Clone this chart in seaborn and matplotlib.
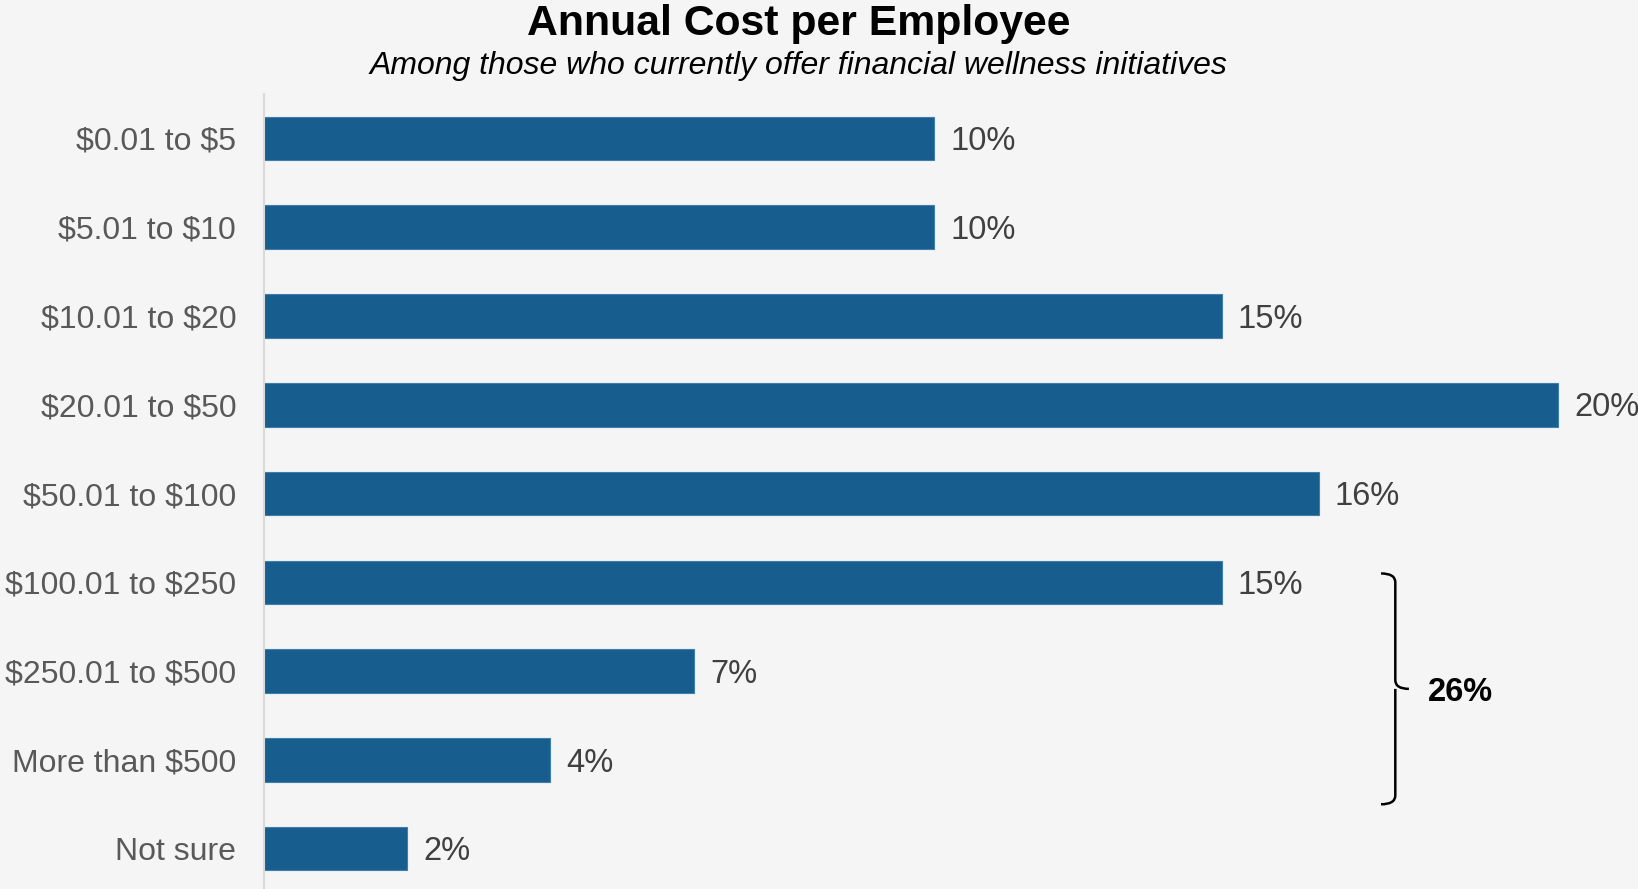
import matplotlib
matplotlib.use("Agg")
import matplotlib.pyplot as plt
from matplotlib.path import Path
from matplotlib.patches import PathPatch
import seaborn as sns
import pandas as pd

categories = ["$0.01 to $5", "$5.01 to $10", "$10.01 to $20", "$20.01 to $50",
              "$50.01 to $100", "$100.01 to $250", "$250.01 to $500",
              "More than $500", "Not sure"]
values = [10.36, 10.36, 14.80, 20.0, 16.30, 14.80, 6.65, 4.42, 2.21]
labels = ["10%", "10%", "15%", "20%", "16%", "15%", "7%", "4%", "2%"]
bracket_label = "26%"
bracket_from, bracket_to = "$100.01 to $250", "More than $500"

title = "Annual Cost per Employee"
subtitle = "Among those who currently offer financial wellness initiatives"

bg = "#f5f5f5"
bar_color = "#175d8e"

sns.set_theme(style="white")
plt.rcParams['font.family'] = ['Liberation Sans', 'DejaVu Sans']

df = pd.DataFrame({"category": categories, "value": values})

W, H = 1638, 889
fig = plt.figure(figsize=(W / 100, H / 100), dpi=100, facecolor=bg)
ax = fig.add_axes([264 / W, 0, (W - 264) / W, (H - 94) / H])
ax.set_facecolor(bg)

sns.barplot(data=df, x="value", y="category", orient="h", color=bar_color,
            width=0.49, saturation=1, edgecolor="#3f7fae", linewidth=0.8, ax=ax)

ax.set_xlim(0, 21.23)
ax.set_ylim(8.454, -0.5)
ax.set_xlabel("")
ax.set_ylabel("")
ax.set_xticks([])
ax.set_yticks(range(len(categories)))
ax.set_yticklabels([c.replace("$", r"\$") for c in categories])
for s in ["top", "right", "bottom"]:
    ax.spines[s].set_visible(False)
ax.spines["left"].set_color("#d9d9d9")
ax.spines["left"].set_linewidth(1.5)
ax.tick_params(axis="y", length=0, pad=20, labelsize=23, labelcolor="#595959")

for p, lab in zip(ax.containers[0], labels):
    ax.annotate(lab, (p.get_x() + p.get_width(), p.get_y() + p.get_height() / 2),
                xytext=(11.5, -8.4), textcoords="offset points", fontsize=23.5,
                color="#404040", ha="left", va="baseline")

# bracket
i0 = categories.index(bracket_from)
i1 = categories.index(bracket_to)
y_top = i0 - 0.1
y_bot = i1 + 0.5
y_mid = (y_top + y_bot) / 2
xl, xv, xt = 17.26, 17.48, 17.69
r = 0.1
codes = [Path.MOVETO, Path.CURVE3, Path.CURVE3,
         Path.LINETO, Path.CURVE3, Path.LINETO,
         Path.MOVETO, Path.CURVE3, Path.CURVE3,
         Path.LINETO, Path.CURVE3, Path.CURVE3]
verts = [(xl, y_top), (xv, y_top), (xv, y_top + r),
         (xv, y_mid - r), (xv, y_mid), (xt, y_mid),
         (xv, y_mid), (xv, y_mid), (xv, y_mid + r),
         (xv, y_bot - r), (xv, y_bot), (xl, y_bot)]
ax.add_patch(PathPatch(Path(verts, codes), fill=False, lw=1.8, edgecolor="black",
                       capstyle="butt", clip_on=False))
ax.annotate(bracket_label, (17.98, y_mid), xytext=(0, -8.4), textcoords="offset points",
            fontsize=23.5, fontweight="bold", color="black", va="baseline", ha="left")

fig.text(0.4875, 1 - 35 / H, title, fontsize=30.8, fontweight="bold", color="black",
         ha="center", va="baseline")
fig.text(0.4875, 1 - 74 / H, subtitle, fontsize=23, fontstyle="italic", color="black",
         ha="center", va="baseline")

fig.savefig("out.png", dpi=100, facecolor=bg)
